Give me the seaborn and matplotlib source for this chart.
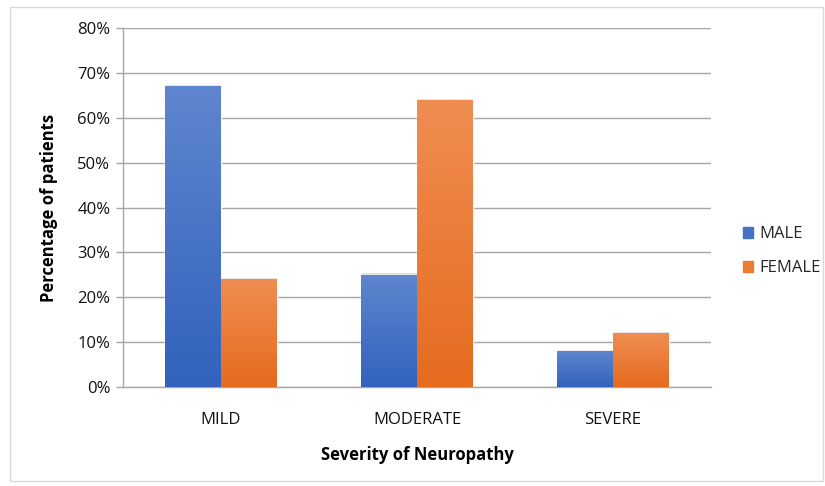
import numpy as np
import pandas as pd
import matplotlib
matplotlib.use("Agg")
import matplotlib.pyplot as plt
import seaborn as sns
from matplotlib.colors import LinearSegmentedColormap
from matplotlib.patches import Rectangle

# data
severity = ["MILD", "MODERATE", "SEVERE"]
male = [67, 25, 8]
female = [24, 64, 12]
genders = ["MALE", "FEMALE"]

df = pd.DataFrame({
    "Severity": severity * 2,
    "Gender": ["MALE"] * 3 + ["FEMALE"] * 3,
    "Value": male + female,
})

sns.set_theme(style="white")
plt.rcParams["font.family"] = ["Open Sans", "DejaVu Sans"]

fig = plt.figure(figsize=(8.25, 4.86), dpi=100)
ax = fig.add_axes([0.149, 0.204, 0.713, 0.738])

palette = {"MALE": "#4472C4", "FEMALE": "#ED7D31"}
sns.barplot(data=df, x="Severity", y="Value", hue="Gender", palette=palette,
            width=0.57, ax=ax, legend=False, zorder=3)

# gradient fill (lighter top, darker bottom) like the office chart
grads = {
    "MALE": LinearSegmentedColormap.from_list("m", ["#3262BD", "#5F86CE"]),
    "FEMALE": LinearSegmentedColormap.from_list("f", ["#E56B1E", "#F08D52"]),
}
grad = np.linspace(0, 1, 256).reshape(-1, 1)
for cont, g in zip(ax.containers, genders):
    for bar in cont:
        x0, y0 = bar.get_x(), bar.get_y()
        w, h = bar.get_width(), bar.get_height()
        # soft shadow
        sh = Rectangle((x0 + 0.006, y0), w, h + 0.3, facecolor="#000000",
                       alpha=0.12, edgecolor="none", zorder=2)
        ax.add_patch(sh)
        im = ax.imshow(grad, extent=[x0, x0 + w, y0, y0 + h], origin="lower",
                       cmap=grads[g], aspect="auto", zorder=3.5)
        im.set_clip_path(bar)

ax.set_xlim(-0.5, 2.5)
ax.set_ylim(0, 80)
ax.set_yticks(range(0, 81, 10))
ax.set_yticklabels([f"{v}%" for v in range(0, 81, 10)], fontsize=12)
ax.tick_params(axis="x", labelsize=12, pad=18, length=0, labelcolor="#111111")
ax.tick_params(axis="y", length=5, color="#A6A6A6", width=1, pad=4, left=True,
               labelcolor="#111111")
ax.yaxis.grid(True, color="#A6A6A6", linewidth=1, zorder=0)
ax.set_axisbelow(True)

for s in ["top", "right"]:
    ax.spines[s].set_visible(False)
for s in ["left", "bottom"]:
    ax.spines[s].set_color("#A6A6A6")
    ax.spines[s].set_linewidth(1)

ax.set_xlabel("Severity of Neuropathy", fontsize=12, fontweight="bold",
              labelpad=13, color="black")
ax.set_ylabel("Percentage of patients", fontsize=12, fontweight="bold",
              labelpad=14, color="black")

handles = [plt.Rectangle((0, 0), 1, 1, color=palette[g]) for g in genders]
fig.legend(handles, genders, loc="center left", bbox_to_anchor=(0.882, 0.483),
           frameon=False, fontsize=12, handlelength=0.6, handleheight=0.6,
           labelspacing=1.1, handletextpad=0.4)

# outer chart border
fig.add_artist(Rectangle((0.012, 0.01), 0.985, 0.976, transform=fig.transFigure,
                         fill=False, edgecolor="#D9D9D9", linewidth=1))

fig.savefig("out.png", dpi=100)
